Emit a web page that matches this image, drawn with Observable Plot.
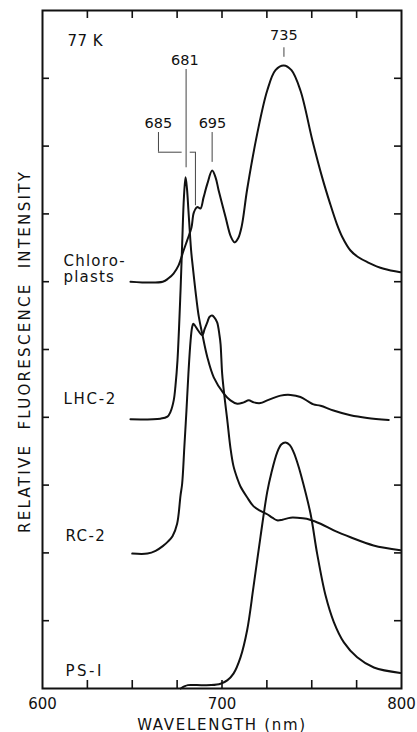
<!DOCTYPE html>
<html>
<head>
<meta charset="utf-8">
<script src="https://cdn.jsdelivr.net/npm/d3@7"></script>
<script src="https://cdn.jsdelivr.net/npm/@observablehq/plot@0.6"></script>
<style>
  html, body { margin: 0; padding: 0; background: #fff; }
  #chart svg { display: block; }
</style>
</head>
<body>
<div id="chart"></div>
<script>
// ---------- data (wavelength nm, offset relative intensity) ----------
const chloroplastsWavelength = [649, 667, 670.2, 673, 675.8, 678.6, 680.6, 683, 684.3, 686.2, 688, 689.7, 691.9, 694.5, 696.4, 698.1, 702, 705, 707, 709, 711, 714, 719.6, 725.2, 729.8, 734.4, 738.7, 743.7, 750.4, 756, 760, 764, 767, 771.6, 776, 780.9, 790.1, 799.4];
const chloroplastsIntensity  = [6.00, 6.00, 6.05, 6.12, 6.24, 6.46, 6.61, 6.80, 7.02, 7.10, 7.08, 7.24, 7.45, 7.64, 7.54, 7.35, 6.95, 6.66, 6.58, 6.64, 6.82, 7.36, 8.18, 8.82, 9.12, 9.19, 9.12, 8.82, 8.08, 7.52, 7.17, 6.85, 6.66, 6.46, 6.36, 6.29, 6.19, 6.14];

const lhc2Wavelength = [649, 665.7, 669.6, 671.3, 673.1, 674.1, 675.2, 676.9, 677.8, 678.8, 679.7, 680.5, 681.3, 682.8, 683.4, 685.2, 687.1, 689, 691.8, 695.4, 701, 704.7, 708.5, 712.1, 714.9, 717.7, 721.4, 725.2, 732.6, 738.2, 743.7, 748.2, 751, 754.9, 762.1, 771.6, 780.9, 792.9];
const lhc2Intensity  = [3.97, 3.98, 4.01, 4.08, 4.25, 4.47, 4.84, 5.87, 6.55, 7.25, 7.54, 7.37, 7.05, 6.46, 6.30, 5.87, 5.48, 5.23, 4.89, 4.59, 4.35, 4.25, 4.20, 4.22, 4.25, 4.22, 4.21, 4.25, 4.32, 4.33, 4.30, 4.23, 4.19, 4.17, 4.10, 4.03, 3.99, 3.96];

const rc2Wavelength = [650, 658.5, 663, 667, 670, 672.5, 675, 676.9, 677.8, 679, 680.2, 681.3, 682.5, 683.3, 684, 685, 686.2, 689, 690.3, 691.8, 693, 694.5, 695.8, 697.3, 698.6, 699.2, 700.1, 701.4, 702.9, 704.7, 706.4, 708.5, 710.3, 714, 717.5, 721.4, 725.2, 728, 730.7, 733.7, 738.2, 745, 749, 754.9, 763.2, 771.6, 784.4, 799.4];
const rc2Intensity  = [1.99, 1.99, 2.03, 2.10, 2.17, 2.25, 2.43, 2.85, 3.02, 3.55, 4.10, 4.65, 5.13, 5.32, 5.38, 5.35, 5.30, 5.21, 5.30, 5.40, 5.48, 5.50, 5.47, 5.40, 5.21, 5.08, 4.64, 4.30, 3.97, 3.55, 3.28, 3.10, 2.98, 2.82, 2.69, 2.62, 2.57, 2.52, 2.48, 2.49, 2.52, 2.51, 2.49, 2.43, 2.32, 2.23, 2.11, 2.04];

const ps1Wavelength = [677, 679, 681, 686, 694, 699.2, 702.9, 706.4, 710.3, 714, 717.5, 721.4, 725.2, 727.5, 730.7, 733, 735.4, 737.8, 740, 742, 744, 749.3, 753, 757.7, 762.3, 767.9, 775.3, 784.6, 799.4];
const ps1Intensity  = [0.00, 0.03, 0.05, 0.05, 0.05, 0.07, 0.12, 0.22, 0.46, 0.86, 1.49, 2.23, 2.90, 3.18, 3.48, 3.60, 3.63, 3.59, 3.48, 3.33, 3.15, 2.58, 1.99, 1.37, 0.98, 0.68, 0.46, 0.31, 0.23];

// ---------- ticks and labels ----------
const xTicks = [625, 650, 675, 700, 725, 750, 775];
const xTickLabels = [600, 700, 800];
const yTicks = [1, 2, 3, 4, 5, 6, 7, 8, 9];
const xTitle = "WAVELENGTH (nm)";
const yTitle = "RELATIVE FLUORESCENCE INTENSITY";
const tempLabel = "77 K";
const seriesNames = ["Chloro-\nplasts", "LHC-2", "RC-2", "PS-I"];
const peakLabels = ["685", "681", "695", "735"];

const INK = "#111";
const FONT = "'DejaVu Sans', 'Liberation Sans', sans-serif";
const curve = "catmull-rom";
const lineStyle = {stroke: INK, strokeWidth: 2, curve};
const leader = {stroke: "#444", strokeWidth: 1};
const txt = {fill: INK, lineAnchor: "bottom"};

const chart = Plot.plot({
  width: 417,
  height: 732,
  marginLeft: 42,
  marginRight: 16,
  marginTop: 10,
  marginBottom: 44,
  x: {domain: [600, 800], axis: null},
  y: {domain: [0, 10], axis: null},
  style: {fontFamily: FONT, fontSize: "15px", color: INK, background: "#fff"},
  marks: [
    Plot.frame({stroke: INK, strokeWidth: 2}),
    // inward ticks on all four sides
    Plot.tickX(xTicks, {x: d => d, insetTop: 670, stroke: INK, strokeWidth: 1.6}),
    Plot.tickX(xTicks, {x: d => d, insetBottom: 670, stroke: INK, strokeWidth: 1.6}),
    Plot.tickY(yTicks, {y: d => d, insetRight: 352, stroke: INK, strokeWidth: 1.6}),
    Plot.tickY(yTicks, {y: d => d, insetLeft: 352, stroke: INK, strokeWidth: 1.6}),
    // tick labels and titles
    Plot.text(xTickLabels, {x: d => d, y: 0, dy: 20, text: d => String(d), fontSize: 15, ...txt}),
    Plot.text([xTitle], {frameAnchor: "bottom", dy: 41, fontSize: 15, ...txt}),
    Plot.text([yTitle], {frameAnchor: "left", dx: -17, dy: 2, rotate: -90, textAnchor: "middle", fontSize: 15, fill: INK, lineAnchor: "middle"}),
    // spectra
    Plot.line(chloroplastsWavelength, {x: chloroplastsWavelength, y: chloroplastsIntensity, ...lineStyle}),
    Plot.line(lhc2Wavelength, {x: lhc2Wavelength, y: lhc2Intensity, ...lineStyle}),
    Plot.line(rc2Wavelength, {x: rc2Wavelength, y: rc2Intensity, ...lineStyle}),
    Plot.line(ps1Wavelength, {x: ps1Wavelength, y: ps1Intensity, ...lineStyle}),
    // leader lines for peak labels
    Plot.ruleX([734.5], {x: d => d, y1: 9.31, y2: 9.45, ...leader}),
    Plot.ruleX([680], {x: d => d, y1: 7.68, y2: 9.13, ...leader}),
    Plot.ruleX([694.5], {x: d => d, y1: 7.76, y2: 8.20, ...leader}),
    Plot.ruleX([664.6], {x: d => d, y1: 7.91, y2: 8.20, ...leader}),
    Plot.ruleY([7.91], {y: d => d, x1: 664.6, x2: 677.8, ...leader}),
    Plot.ruleY([7.91], {y: d => d, x1: 682.3, x2: 685.2, ...leader}),
    Plot.ruleX([685.2], {x: d => d, y1: 7.12, y2: 7.91, ...leader}),
    // peak labels
    Plot.text([peakLabels[0]], {x: 664.6, y: 8.27, fontSize: 14.5, ...txt}),
    Plot.text([peakLabels[1]], {x: 679.3, y: 9.19, fontSize: 14.5, ...txt}),
    Plot.text([peakLabels[2]], {x: 694.7, y: 8.27, fontSize: 14.5, ...txt}),
    Plot.text([peakLabels[3]], {x: 734.5, y: 9.56, fontSize: 14.5, ...txt}),
    // temperature
    Plot.text([tempLabel], {x: 613.9, y: 9.48, textAnchor: "start", fontSize: 15, ...txt}),
    // series labels
    Plot.text([seriesNames[0]], {x: 611.7, y: 5.99, textAnchor: "start", lineHeight: 1.1, fontSize: 15, ...txt}),
    Plot.text([seriesNames[1]], {x: 611.7, y: 4.20, textAnchor: "start", fontSize: 15, ...txt}),
    Plot.text([seriesNames[2]], {x: 612.8, y: 2.18, textAnchor: "start", fontSize: 15, ...txt}),
    Plot.text([seriesNames[3]], {x: 612.8, y: 0.19, textAnchor: "start", fontSize: 15, ...txt})
  ]
});

// letter spacing to mimic the stencil lettering of the original figure
const spacing = new Map([
  [yTitle, ["2.3px", "7px"]],
  [xTitle, ["1.7px", null]],
  [seriesNames[1], ["1.7px", null]],
  [seriesNames[2], ["1.4px", null]],
  [seriesNames[3], ["2.5px", null]],
  [tempLabel, ["0.5px", null]]
]);
d3.select(chart).selectAll("text").each(function () {
  const t = this.textContent;
  let s = spacing.get(t);
  if (!s && t === seriesNames[0].replace("\n", "")) s = ["1.2px", null];
  if (s) {
    this.style.letterSpacing = s[0];
    if (s[1]) this.style.wordSpacing = s[1];
  }
});

document.getElementById("chart").appendChild(chart);
</script>
</body>
</html>
